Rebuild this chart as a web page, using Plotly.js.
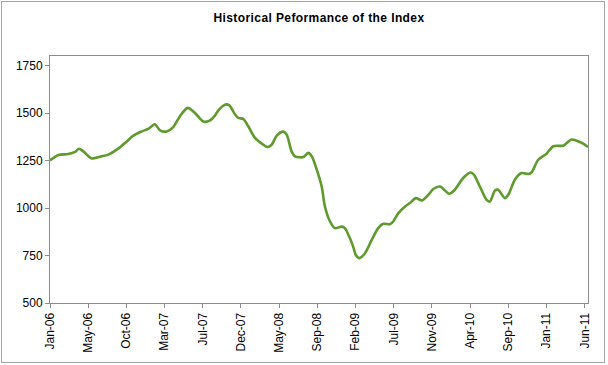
<!DOCTYPE html>
<html>
<head>
<meta charset="utf-8">
<script src="https://cdn.plot.ly/plotly-3.0.1.min.js"></script>
<style>
  html, body { margin: 0; padding: 0; background: #fff; }
  #wrap { position: relative; width: 608px; height: 365px; }
  #chart { width: 608px; height: 365px; }
  #frame { position: absolute; left: 1px; top: 1px; width: 602px; height: 360px;
           border: 1px solid #a6a6a6; pointer-events: none; }
  .gtitle { letter-spacing: 0.4px; }
</style>
</head>
<body>
<div id="wrap"><div id="chart"></div><div id="frame"></div></div>
<script>
const dates = [
  "2006-01-02","2006-02-02","2006-03-11","2006-04-05","2006-04-20","2006-05-06","2006-06-06","2006-07-07",
  "2006-08-07","2006-09-07","2006-10-08","2006-11-08","2006-12-09","2007-01-02","2007-01-27","2007-02-15",
  "2007-03-12","2007-04-05","2007-04-30","2007-05-29","2007-06-25","2007-07-26","2007-08-20","2007-09-07",
  "2007-09-20","2007-10-14","2007-10-30","2007-11-21","2007-12-03","2007-12-21","2008-01-09","2008-02-03",
  "2008-02-28","2008-03-20","2008-04-05","2008-04-24","2008-05-18","2008-05-31","2008-06-18","2008-07-01",
  "2008-08-01","2008-08-19","2008-09-01","2008-09-19","2008-10-08","2008-10-20","2008-11-08","2008-11-26",
  "2008-12-21","2009-01-02","2009-01-21","2009-02-02","2009-02-12","2009-02-25","2009-03-18","2009-04-12",
  "2009-05-06","2009-05-25","2009-06-19","2009-07-01","2009-07-20","2009-08-14","2009-09-01","2009-09-23",
  "2009-10-16","2009-11-12","2009-11-27","2009-12-22","2010-01-09","2010-01-25","2010-02-15","2010-03-18",
  "2010-04-15","2010-04-27","2010-05-19","2010-06-13","2010-06-25","2010-07-14","2010-07-26","2010-08-20",
  "2010-09-02","2010-09-26","2010-10-21","2010-11-15","2010-11-27","2010-12-22","2011-01-22","2011-02-16",
  "2011-03-25","2011-04-07","2011-04-25","2011-05-14","2011-06-07","2011-06-25"
];
const indexValues = [
  1250,1279,1284,1295,1312,1298,1261,1270,
  1281,1307,1342,1381,1403,1416,1440,1409,
  1403,1426,1483,1527,1500,1455,1461,1486,
  1514,1544,1541,1492,1474,1469,1430,1369,
  1339,1321,1333,1381,1402,1386,1298,1272,
  1268,1290,1272,1205,1113,1008,929,894,
  902,894,841,797,753,736,762,832,
  894,917,915,929,973,1008,1026,1052,
  1040,1075,1100,1113,1092,1075,1096,1158,
  1187,1175,1113,1043,1034,1092,1096,1052,
  1070,1149,1184,1179,1187,1254,1286,1325,
  1328,1342,1360,1354,1339,1321
];
const tickDates = [
  "2006-01-02","2006-05-24","2006-10-13","2007-03-04","2007-07-24","2007-12-13","2008-05-03","2008-09-22",
  "2009-02-11","2009-07-03","2009-11-22","2010-04-13","2010-09-02","2011-01-22","2011-06-13"
];
const tickLabels = [
  "Jan-06","May-06","Oct-06","Mar-07","Jul-07","Dec-07","May-08","Sep-08",
  "Feb-09","Jul-09","Nov-09","Apr-10","Sep-10","Jan-11","Jun-11"
];
const yTicks = [500, 750, 1000, 1250, 1500, 1750];

const trace = {
  x: dates, y: indexValues, type: "scatter", mode: "lines",
  line: { color: "#5e9a2c", width: 2.6, shape: "spline", smoothing: 0.8 },
  hoverinfo: "x+y"
};

const layout = {
  width: 608, height: 365,
  margin: { l: 50, r: 20, t: 56, b: 62 },
  paper_bgcolor: "#ffffff", plot_bgcolor: "#ffffff",
  showlegend: false,
  font: { family: "Liberation Sans, Arial, sans-serif", color: "#000", size: 12 },
  title: {
    text: "<b>Historical Peformance of the Index</b>",
    font: { family: "Liberation Sans, Arial, sans-serif", size: 12, color: "#000" },
    x: 0.5, xanchor: "center", xref: "paper", y: 0.95, yanchor: "middle", yref: "container"
  },
  xaxis: {
    type: "date",
    range: ["2006-01-02", "2011-06-25"],
    tickmode: "array", tickvals: tickDates, ticktext: tickLabels,
    tickangle: -90,
    ticks: "outside", ticklen: 4, tickcolor: "#8c8c8c",
    showline: true, linecolor: "#8c8c8c", linewidth: 1, mirror: true,
    showgrid: false, zeroline: false,
    tickfont: { size: 12, color: "#000" }
  },
  yaxis: {
    range: [500, 1800],
    tickmode: "array", tickvals: yTicks,
    ticks: "outside", ticklen: 4, tickcolor: "#8c8c8c",
    showline: true, linecolor: "#8c8c8c", linewidth: 1, mirror: true,
    showgrid: false, zeroline: false,
    tickfont: { size: 12, color: "#000" }
  }
};

Plotly.newPlot("chart", [trace], layout, { displayModeBar: false, staticPlot: true });
</script>
</body>
</html>
